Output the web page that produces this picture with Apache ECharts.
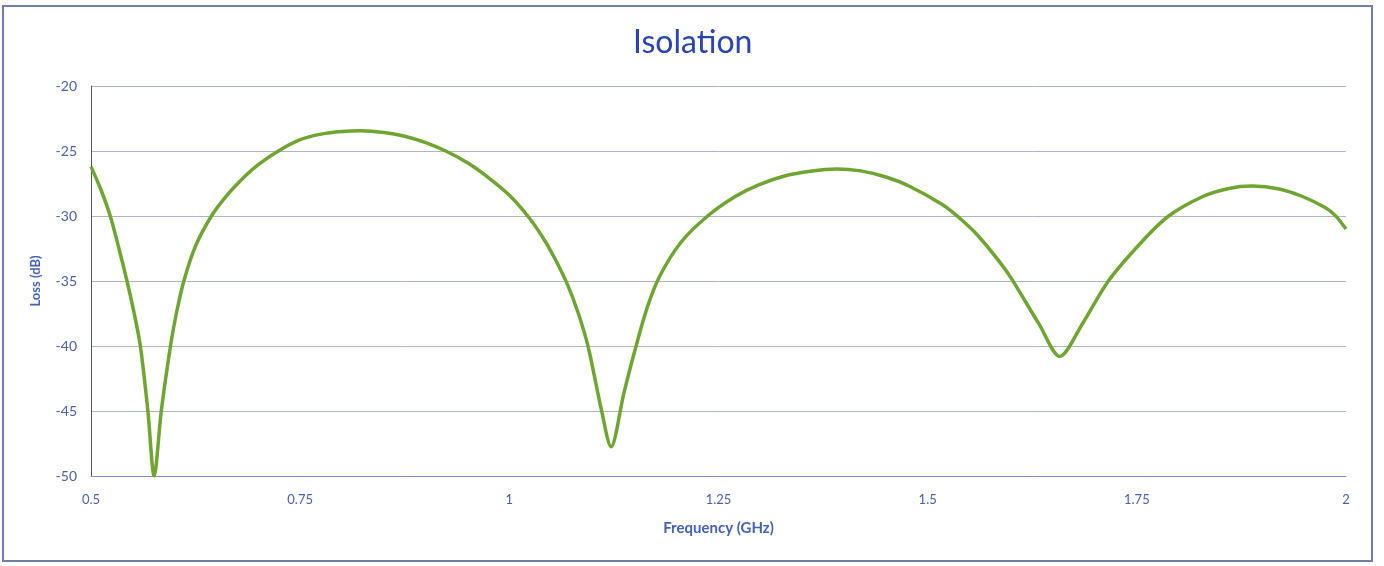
<!DOCTYPE html>
<html>
<head>
<meta charset="utf-8">
<script src="https://cdn.jsdelivr.net/npm/echarts@6/dist/echarts.min.js"></script>
<style>
  html, body { margin: 0; padding: 0; background: #fff; }
  #chart { width: 1384px; height: 566px; }
</style>
</head>
<body>
<div id="chart"></div>
<script>
// frequency (GHz) and isolation (dB)
var freq = [0.500, 0.512, 0.523, 0.533, 0.543, 0.551, 0.559, 0.568, 0.5755, 0.584, 0.595, 0.602,
  0.611, 0.625, 0.644, 0.662, 0.684, 0.700, 0.724, 0.750, 0.775, 0.800, 0.822, 0.850, 0.875,
  0.900, 0.924, 0.950, 0.970, 1.000, 1.022, 1.040, 1.053, 1.069, 1.082, 1.094, 1.110, 1.1216,
  1.137, 1.1515, 1.165, 1.180, 1.2054, 1.237, 1.270, 1.298, 1.330, 1.360, 1.391, 1.420, 1.450,
  1.477, 1.517, 1.537, 1.560, 1.588, 1.600, 1.633, 1.658, 1.684, 1.716, 1.756, 1.788, 1.829,
  1.860, 1.888, 1.920, 1.948, 1.975, 1.987, 2.000];
var loss = [-26.2, -28.0, -30, -32.4, -35, -37.3, -40, -45, -50, -45, -40, -37.5,
  -35, -32.3, -30, -28.45, -26.95, -26.05, -25, -24.13, -23.7, -23.5, -23.45, -23.57, -23.87,
  -24.36, -25.0, -25.9, -26.8, -28.4, -30, -31.65, -33.1, -35.2, -37.4, -40, -44.9, -47.75,
  -43.6, -40, -37.0, -34.6, -32.0, -30, -28.5, -27.6, -26.9, -26.55, -26.38, -26.53, -27.0,
  -27.67, -29.1, -30.1, -31.5, -33.7, -34.8, -38.3, -40.8, -38.4, -35, -31.98, -30, -28.5,
  -27.88, -27.7, -27.92, -28.5, -29.35, -29.95, -31.0];

var blue = "#2B44B5";
var labelBlue = "#4A5FB0";
var font = "Lato";

var chart = echarts.init(document.getElementById("chart"));

var option = {
  backgroundColor: "#fff",
  animation: false,
  title: {
    text: "Isolation",
    left: 628,
    top: 22,
    textStyle: { fontFamily: font, fontSize: 32, fontWeight: "normal", color: blue }
  },
  graphic: [{
    type: "rect",
    shape: { x: 3, y: 6, width: 1369, height: 555 },
    style: { fill: "none", stroke: "#6F7DB2", lineWidth: 2 }
  }],
  grid: { left: 91, right: 38, top: 86, bottom: 90 },
  xAxis: {
    type: "value",
    min: 0.5,
    max: 2,
    interval: 0.25,
    name: "Frequency (GHz)",
    nameLocation: "middle",
    nameGap: 45,
    nameTextStyle: { fontFamily: font, fontSize: 15, fontWeight: "bold", color: "#4460BC" },
    axisLine: { lineStyle: { color: "#7D8FC0", width: 1 } },
    axisTick: { show: false },
    splitLine: { show: false },
    axisLabel: { fontFamily: font, fontSize: 13, color: labelBlue, margin: 17 }
  },
  yAxis: {
    type: "value",
    min: -50,
    max: -20,
    interval: 5,
    name: "Loss (dB)",
    nameLocation: "middle",
    nameGap: 49,
    nameTextStyle: { fontFamily: font, fontSize: 13, fontWeight: "bold", color: "#4460BC" },
    axisLine: { show: true, lineStyle: { color: "#555", width: 1 } },
    axisTick: { show: false },
    splitLine: { lineStyle: { color: "#A9B6CE", width: 1 } },
    axisLabel: { fontFamily: font, fontSize: 14, color: labelBlue, margin: 14 }
  },
  series: [{
    type: "line",
    data: freq.map(function (f, i) { return [f, loss[i]]; }),
    smooth: 0.3,
    showSymbol: false,
    clip: true,
    lineStyle: { color: "#6FA531", width: 3.5 }
  }]
};

chart.setOption(option);
</script>
</body>
</html>
